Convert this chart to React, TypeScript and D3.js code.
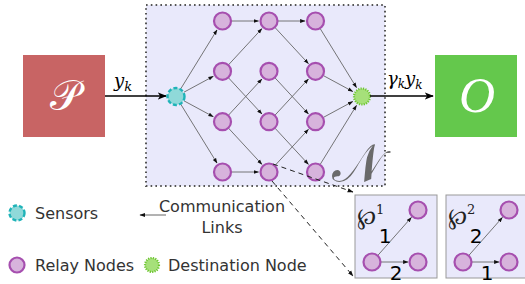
import * as d3 from 'd3';

// node grid: columns (0 = sensor, 4 = destination), rows
const relayCols = [1, 2, 3];
const relayRows = [0, 1, 2, 3];
const sensor = { col: 0, row: 1.5 };
const dest = { col: 4, row: 1.5 };

// edges as [fromCol, fromRow, toCol, toRow]
const edges: [number, number, number, number][] = [
  [0, 1.5, 1, 0], [0, 1.5, 1, 1], [0, 1.5, 1, 2], [0, 1.5, 1, 3],
  [1, 0, 2, 0], [1, 1, 2, 0], [1, 1, 2, 2], [1, 2, 2, 1], [1, 2, 2, 3], [1, 3, 2, 3],
  [2, 0, 3, 0], [2, 0, 3, 1], [2, 1, 3, 2], [2, 2, 3, 1], [2, 2, 3, 3], [2, 3, 3, 2],
  [3, 0, 4, 1.5], [3, 1, 4, 1.5], [3, 2, 4, 1.5], [3, 3, 4, 1.5],
];

const legendItems = ['Sensors', 'Relay Nodes', 'Destination Node'];
const pathLabels = ['℘', '℘'];
const pathSups = ['1', '2'];
const pathEdgeOrder = [['1', '2'], ['2', '1']];

const x = d3.scaleLinear().domain([0, 4]).range([176, 362]);
const y = d3.scaleLinear().domain([0, 3]).range([21, 172]);

const relayFill = '#d7b3dc';
const relayStroke = '#a64faf';
const font = 'DejaVu Sans, sans-serif';
const serif = 'DejaVu Serif, serif';

function trimmed(x1: number, y1: number, x2: number, y2: number, r1: number, r2: number) {
  const dx = x2 - x1, dy = y2 - y1;
  const len = Math.hypot(dx, dy);
  return {
    x1: x1 + (dx / len) * r1, y1: y1 + (dy / len) * r1,
    x2: x2 - (dx / len) * r2, y2: y2 - (dy / len) * r2,
  };
}

function Relay({ cx, cy, r = 8.5 }: { cx: number; cy: number; r?: number }) {
  return <circle cx={cx} cy={cy} r={r} fill={relayFill} stroke={relayStroke} strokeWidth={2.2} />;
}

function SensorNode({ cx, cy, r = 8.5 }: { cx: number; cy: number; r?: number }) {
  return <circle cx={cx} cy={cy} r={r} fill="#8fd9d9" stroke="#1fb3b8" strokeWidth={2.4} strokeDasharray="4,2.2" />;
}

function DestNode({ cx, cy, r = 8 }: { cx: number; cy: number; r?: number }) {
  return <circle cx={cx} cy={cy} r={r} fill="#a6e07a" stroke="#6cc42f" strokeWidth={2.2} strokeDasharray="1.2,1.2" />;
}

export default function App() {
  const boxX = 146, boxY = 5, boxW = 239, boxH = 181;
  const sub = [355, 446];
  return (
    <svg width={525} height={284} style={{ position: 'absolute', left: 0, top: 0 }}>
      <defs>
        <marker id="ah" viewBox="0 0 10 10" refX={9} refY={5} markerWidth={6} markerHeight={6} orient="auto">
          <path d="M0,1.5 L10,5 L0,8.5 z" fill="#111" />
        </marker>
        <marker id="ahBig" viewBox="0 0 10 10" refX={9} refY={5} markerWidth={7} markerHeight={7} orient="auto">
          <path d="M0,1 L10,5 L0,9 L2.5,5 z" fill="#000" />
        </marker>
      </defs>

      {/* network box */}
      <rect x={boxX} y={boxY} width={boxW} height={boxH} fill="#e9e9fb" stroke="#555" strokeWidth={2} strokeDasharray="1.6,3.2" />

      {edges.map(([c1, r1, c2, r2], i) => {
        const t = trimmed(x(c1), y(r1), x(c2), y(r2), 9, 10.5);
        return <line key={i} {...t} stroke="#666" strokeWidth={0.9} markerEnd="url(#ah)" />;
      })}

      {relayCols.map(c => relayRows.map(r => <Relay key={`${c}-${r}`} cx={x(c)} cy={y(r)} />))}
      <SensorNode cx={x(sensor.col)} cy={y(sensor.row)} />
      <DestNode cx={x(dest.col)} cy={y(dest.row)} />

      {/* dashed zoom arrows */}
      <line x1={273} y1={164} x2={353} y2={192} stroke="#222" strokeWidth={1} strokeDasharray="5,4" markerEnd="url(#ah)" />
      <line x1={272} y1={181} x2={353} y2={276} stroke="#222" strokeWidth={1} strokeDasharray="5,4" markerEnd="url(#ah)" />

      <text x={332} y={182} fontFamily={serif} fontSize={54} fill="#6a6a6a">𝒩</text>

      {/* source and destination blocks */}
      <rect x={23} y={55} width={82} height={82} fill="#c86464" />
      <text x={65} y={110} textAnchor="middle" fontFamily={serif} fontSize={42} fill="#fff">𝒫</text>
      <line x1={105} y1={96} x2={166} y2={96} stroke="#000" strokeWidth={1.3} markerEnd="url(#ahBig)" />
      <text x={114} y={87} fontFamily={serif} fontStyle="italic" fontSize={18}>y<tspan fontSize={13} dy={4}>k</tspan></text>

      <rect x={435} y={55} width={82} height={82} fill="#64c84c" />
      <text x={477} y={112} textAnchor="middle" fontFamily="Liberation Serif, serif" fontStyle="italic" fontSize={50} fill="#fff">O</text>
      <line x1={370} y1={96} x2={433} y2={96} stroke="#000" strokeWidth={1.3} markerEnd="url(#ahBig)" />
      <text x={387} y={85} fontFamily={serif} fontStyle="italic" fontSize={18}>γ<tspan fontSize={12} dy={3}>k</tspan><tspan dy={-3}>y</tspan><tspan fontSize={12} dy={4}>k</tspan></text>

      {/* path sub-boxes */}
      {sub.map((bx, i) => (
        <g key={i}>
          <rect x={bx} y={195} width={82} height={83} fill="#e9e9fb" stroke="#999" strokeWidth={1} />
          <line {...trimmed(bx + 17, 262, bx + 63, 210, 8.5, 10)} stroke="#666" strokeWidth={0.9} markerEnd="url(#ah)" />
          <line {...trimmed(bx + 17, 262, bx + 63, 262, 8.5, 10)} stroke="#666" strokeWidth={0.9} markerEnd="url(#ah)" />
          <Relay cx={bx + 17} cy={262} r={8.5} />
          <Relay cx={bx + 63} cy={210} r={8.5} />
          <Relay cx={bx + 63} cy={262} r={8.5} />
          <text x={bx + 2} y={224} fontFamily={serif} fontSize={23} fill="#222">{pathLabels[i]}<tspan fontSize={13} dy={-10}>{pathSups[i]}</tspan></text>
          <text x={bx + 30} y={243} textAnchor="middle" fontFamily={font} fontSize={20} fill="#000">{pathEdgeOrder[i][0]}</text>
          <text x={bx + 41} y={280} textAnchor="middle" fontFamily={font} fontSize={20} fill="#000">{pathEdgeOrder[i][1]}</text>
        </g>
      ))}

      {/* legend */}
      <SensorNode cx={17} cy={213} r={7.5} />
      <text x={35} y={219} fontFamily={font} fontSize={16} fill="#333">{legendItems[0]}</text>
      <Relay cx={17} cy={265} r={7.5} />
      <text x={35} y={271} fontFamily={font} fontSize={16} fill="#333">{legendItems[1]}</text>
      <DestNode cx={152} cy={265} r={7} />
      <text x={168} y={271} fontFamily={font} fontSize={16} fill="#333">{legendItems[2]}</text>
      <line x1={166} y1={215} x2={140} y2={215} stroke="#666" strokeWidth={1} markerEnd="url(#ah)" />
      <text x={222} y={212} textAnchor="middle" fontFamily={font} fontSize={16} fill="#333">Communication</text>
      <text x={222} y={233} textAnchor="middle" fontFamily={font} fontSize={16} fill="#333">Links</text>
    </svg>
  );
}
